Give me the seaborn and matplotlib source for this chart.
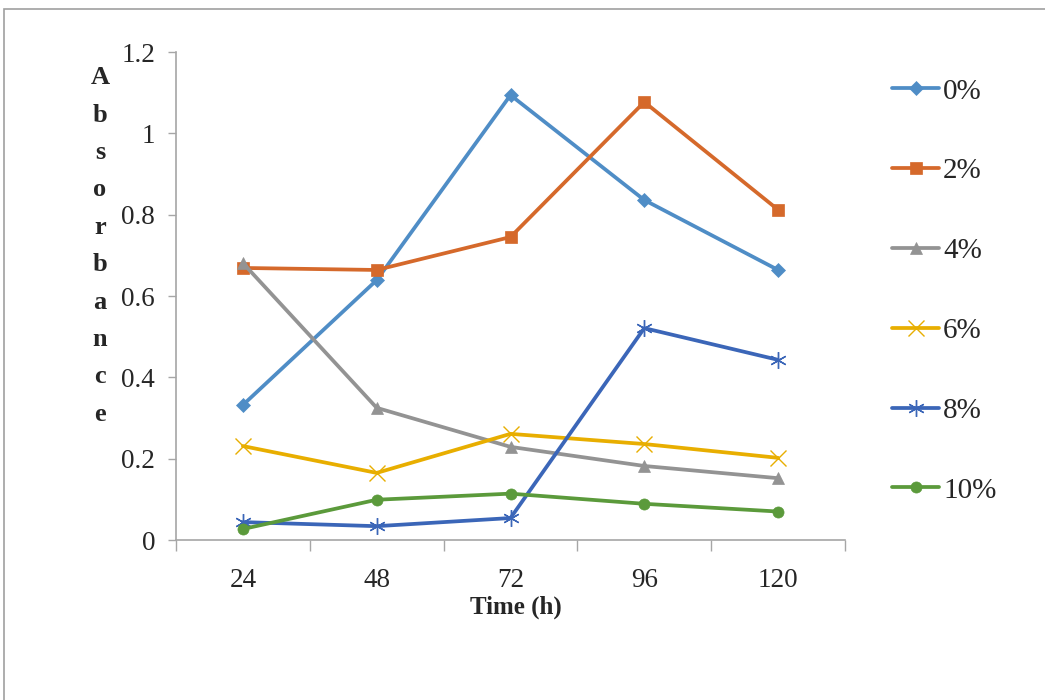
import matplotlib
matplotlib.use("Agg")
import matplotlib.pyplot as plt
import seaborn as sns
import pandas as pd
from matplotlib.patches import Rectangle

# Data
times = ["24", "48", "72", "96", "120"]
series_labels = ["0%", "2%", "4%", "6%", "8%", "10%"]
abs_0 = [0.332, 0.639, 1.094, 0.836, 0.664]
abs_2 = [0.669, 0.664, 0.745, 1.077, 0.812]
abs_4 = [0.681, 0.325, 0.229, 0.182, 0.152]
abs_6 = [0.231, 0.165, 0.261, 0.236, 0.202]
abs_8 = [0.044, 0.034, 0.054, 0.521, 0.443]
abs_10 = [0.027, 0.099, 0.114, 0.089, 0.070]
y_ticks = [0, 0.2, 0.4, 0.6, 0.8, 1, 1.2]
y_tick_labels = ["0", "0.2", "0.4", "0.6", "0.8", "1", "1.2"]

values = [abs_0, abs_2, abs_4, abs_6, abs_8, abs_10]
colors = ["#4F8DC6", "#D5692B", "#939393", "#E8AE00", "#3B66B8", "#5B9A3B"]
markers = ["D", "s", "^", "x", (6, 2, 0), "o"]
msizes = [7, 9, 9, 11, 12, 8]
medge = [0.5, 0.5, 0.5, 1.0, 1.0, 0.5]

sns.set_theme(style="white")
plt.rcParams["font.family"] = ["Liberation Serif", "DejaVu Serif"]

fig = plt.figure(figsize=(10.45, 7.0), dpi=100)
ax = fig.add_axes([176 / 1045, 1 - 540 / 700, (845 - 176) / 1045, (540 - 52) / 700])

rows = []
for lab, vals in zip(series_labels, values):
    for i, v in enumerate(vals):
        rows.append({"pos": i, "series": lab, "value": v})
df = pd.DataFrame(rows)

for lab, col, mk, ms, me in zip(series_labels, colors, markers, msizes, medge):
    sub = df[df["series"] == lab]
    sns.lineplot(data=sub, x="pos", y="value", ax=ax, color=col, lw=2.7,
                 marker=mk, markersize=ms, markeredgewidth=me,
                 markeredgecolor=col, markerfacecolor=col, label=lab)

ax.set_xlim(-0.5, len(times) - 0.5)
ax.set_ylim(0, 1.2)
ax.set_yticks(y_ticks)
ax.set_yticklabels(y_tick_labels, fontsize=19.5)
ax.set_xticks(range(len(times)))
ax.set_xticklabels(times, fontsize=19.5)
ax.set_xticks([i - 0.5 for i in range(len(times) + 1)], minor=True)
ax.tick_params(axis="x", which="major", length=0, pad=20)
ax.tick_params(axis="x", which="minor", length=8, width=1, color="#A6A6A6", direction="out", bottom=True)
ax.tick_params(axis="y", which="major", length=6, width=1, color="#A6A6A6", direction="out", left=True, pad=9)
ax.set_xlabel("")
ax.set_ylabel("")
for s in ["top", "right"]:
    ax.spines[s].set_visible(False)
for s in ["left", "bottom"]:
    ax.spines[s].set_color("#A6A6A6")
    ax.spines[s].set_linewidth(1.2)
ax.grid(False)

fig.text(516 / 1045, 1 - 607 / 700, "Time (h)", ha="center", va="center",
         fontsize=18, fontweight="bold")
fig.text(100 / 1045, 1 - 246 / 700, "\n".join("Absorbance"), ha="center", va="center",
         fontsize=19, fontweight="bold", linespacing=1.80, multialignment="center")

leg = ax.legend(loc="upper left", bbox_to_anchor=(866 / 1045, 1 - 52 / 700),
                bbox_transform=fig.transFigure, frameon=False, fontsize=21,
                labelspacing=1.83, handlelength=1.6, handletextpad=0.14)

fig.patches.append(Rectangle((4 / 1045, -0.1), 1.2, 1 - 9 / 700 + 0.1,
                             transform=fig.transFigure, fill=False,
                             edgecolor="#A0A0A0", lw=1.2))

fig.savefig("out.png", dpi=100)
